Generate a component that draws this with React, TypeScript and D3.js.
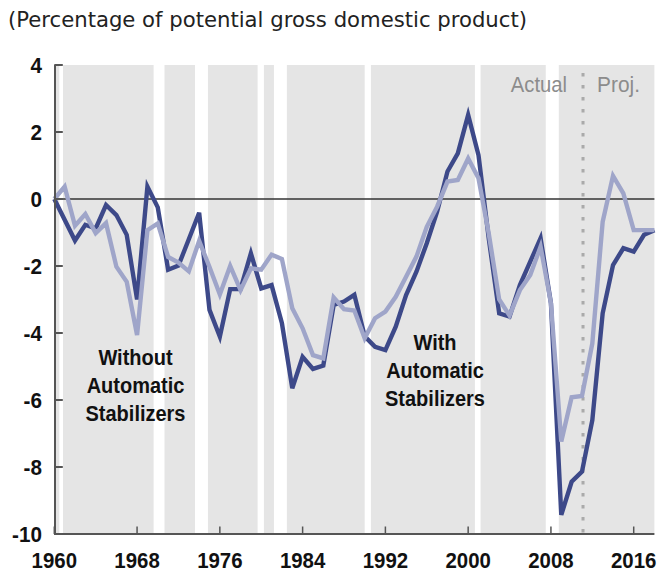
import React from "react";
import * as d3 from "d3";

const years: number[] = d3.range(1960, 2019);

const withStabilizers: number[] = [
  0.0, -0.62, -1.24, -0.77, -0.88, -0.18, -0.48, -1.07, -3.0, 0.37,
  -0.25, -2.11, -1.99, -1.2, -0.41, -3.31, -4.11, -2.69, -2.69, -1.62,
  -2.67, -2.57, -3.71, -5.65, -4.71, -5.07, -4.97, -3.16, -3.06, -2.86,
  -4.1, -4.41, -4.51, -3.81, -2.87, -2.17, -1.32, -0.38, 0.82, 1.36,
  2.51, 1.31, -1.2, -3.41, -3.51, -2.57, -1.87, -1.17, -3.11, -9.43,
  -8.44, -8.14, -6.6, -3.41, -1.97, -1.47, -1.57, -1.07, -0.93,
];

const withoutStabilizers: number[] = [
  0.0, 0.37, -0.8, -0.45, -1.02, -0.72, -2.02, -2.47, -4.06, -0.93,
  -0.73, -1.73, -1.9, -2.16, -1.25, -2.03, -2.85, -2.0, -2.72, -2.07,
  -2.11, -1.66, -1.79, -3.26, -3.86, -4.66, -4.76, -2.94, -3.29, -3.33,
  -4.16, -3.56, -3.36, -2.92, -2.32, -1.72, -0.83, -0.23, 0.52, 0.57,
  1.21, 0.62, -1.05, -3.0, -3.48, -2.72, -2.27, -1.42, -3.11, -7.24,
  -5.92, -5.88, -4.31, -0.68, 0.69, 0.17, -0.93, -0.93, -0.93,
];

// shaded (non-recession) periods, in fractional years
const bandStarts: number[] = [1960, 1960.84, 1970.65, 1974.85, 1980.26, 1982.48, 1990.6, 2001.2, 2008.76];
const bandEnds: number[] = [1960.48, 1969.6, 1973.6, 1979.65, 1981.23, 1990.0, 2000.65, 2007.5, 2018];

const yTicks: number[] = [4, 2, 0, -2, -4, -6, -8, -10];
const xTicks: number[] = [1960, 1968, 1976, 1984, 1992, 2000, 2008, 2016];
const projectionStart = 2011.1;

const title = "(Percentage of potential gross domestic product)";
const labelWithout: string[] = ["Without", "Automatic", "Stabilizers"];
const labelWith: string[] = ["With", "Automatic", "Stabilizers"];

const W = 658;
const H = 573;

const FONT = "'Liberation Sans', Arial, sans-serif";

function SText(props: {
  x: number;
  y: number;
  sx: number;
  anchor: "start" | "middle" | "end";
  size: number;
  weight?: string;
  fill: string;
  children: React.ReactNode;
}) {
  return (
    <text
      transform={`translate(${props.x},${props.y}) scale(${props.sx},1)`}
      textAnchor={props.anchor}
      fontFamily={FONT}
      fontSize={props.size}
      fontWeight={props.weight || "normal"}
      fill={props.fill}
    >
      {props.children}
    </text>
  );
}

export default function App() {
  const x = d3.scaleLinear().domain([1960, 2018]).range([54.3, 654.4]);
  const y = d3.scaleLinear().domain([-10, 4]).range([534, 65]);

  const line = d3
    .line<number>()
    .x((_, i) => x(years[i]))
    .y((d) => y(d));

  const dark = "#3d4989";
  const light = "#9fa5c9";

  return (
    <svg
      width={W}
      height={H}
      style={{ position: "absolute", left: 0, top: 0, background: "#fff" }}
    >
      <text
        x={8}
        y={27}
        fontFamily="'DejaVu Sans', sans-serif"
        fontSize={21}
        fill="#222"
        textLength={519}
        lengthAdjust="spacingAndGlyphs"
      >
        {title}
      </text>

      {bandStarts.map((s, i) => (
        <rect
          key={i}
          x={x(s)}
          y={y(4)}
          width={x(bandEnds[i]) - x(s)}
          height={y(-10) - y(4)}
          fill="#e5e5e5"
        />
      ))}

      <line
        x1={x(projectionStart)}
        x2={x(projectionStart)}
        y1={y(4) + 8}
        y2={y(-10)}
        stroke="#aaaaaa"
        strokeWidth={3}
        strokeDasharray="3.5 8.5"
      />

      <SText x={567} y={92} sx={0.92} anchor="end" size={22} fill="#8c8c8c">
        Actual
      </SText>
      <SText x={597} y={92} sx={0.95} anchor="start" size={22} fill="#8c8c8c">
        Proj.
      </SText>

      <line x1={x(1960)} x2={x(2018)} y1={y(0)} y2={y(0)} stroke="#333" strokeWidth={1.5} />

      <path d={line(withStabilizers) || ""} fill="none" stroke={dark} strokeWidth={4.4} strokeLinejoin="miter" />
      <path d={line(withoutStabilizers) || ""} fill="none" stroke={light} strokeWidth={4.4} strokeLinejoin="miter" />

      {/* axes */}
      <line x1={x(1960) + 0.7} x2={x(1960) + 0.7} y1={y(4)} y2={y(-10) + 1} stroke="#555" strokeWidth={2} />
      <line x1={x(1960)} x2={x(2018)} y1={y(-10)} y2={y(-10)} stroke="#555" strokeWidth={2} />

      {yTicks.map((t) => (
        <g key={t}>
          <line x1={x(1960)} x2={x(1960) + 8.5} y1={y(t)} y2={y(t)} stroke="#555" strokeWidth={2} />
          <SText x={42} y={y(t) + 8.3} sx={0.92} anchor="end" size={22.5} weight="bold" fill="#111">
            {t}
          </SText>
        </g>
      ))}

      {xTicks.map((t) => (
        <g key={t}>
          <line x1={x(t)} x2={x(t)} y1={y(-10)} y2={y(-10) - 7.5} stroke="#555" strokeWidth={1.5} />
          <SText x={x(t)} y={568} sx={0.95} anchor="middle" size={21.5} weight="bold" fill="#111">
            {t}
          </SText>
        </g>
      ))}

      {labelWithout.map((s, i) => (
        <SText key={"wo" + i} x={135.5} y={365 + i * 28} sx={0.93} anchor="middle" size={21.5} weight="bold" fill="#111">
          {s}
        </SText>
      ))}
      {labelWith.map((s, i) => (
        <SText key={"w" + i} x={435} y={350 + i * 28} sx={0.93} anchor="middle" size={21.5} weight="bold" fill="#111">
          {s}
        </SText>
      ))}
    </svg>
  );
}
